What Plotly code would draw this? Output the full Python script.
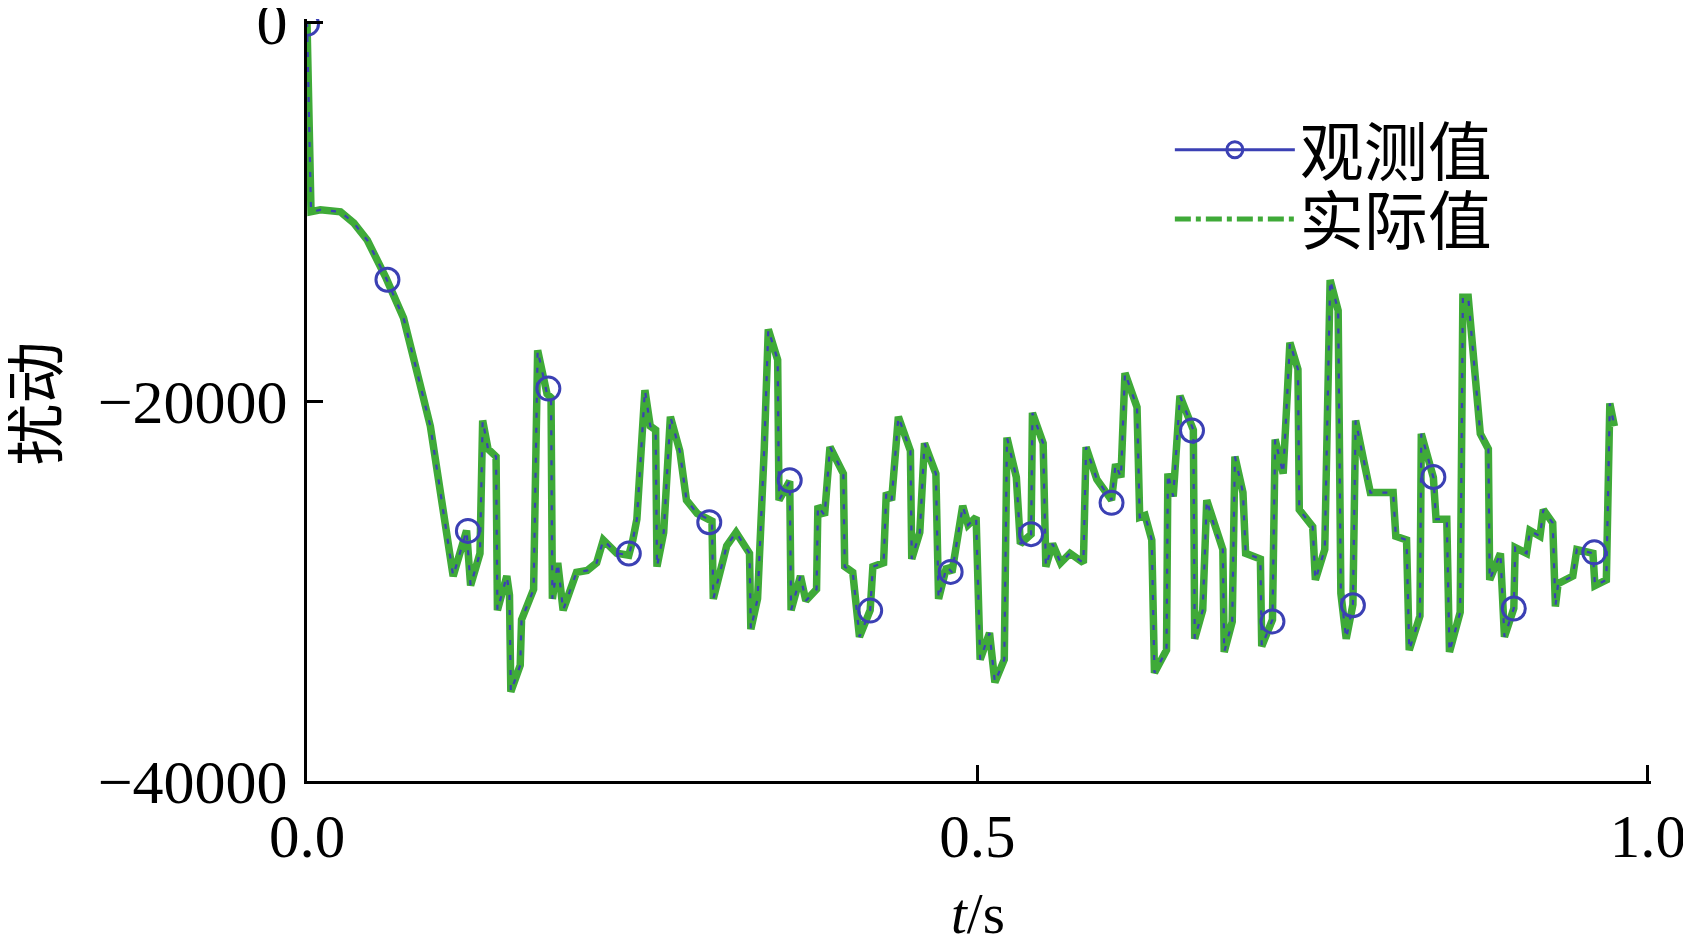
import plotly.graph_objects as go

# ---- data ----
t_actual = [0.000, 0.003, 0.010, 0.025, 0.035, 0.045, 0.059, 0.072, 0.084, 0.092,
            0.109, 0.119, 0.122, 0.129, 0.131, 0.135, 0.141, 0.142, 0.149, 0.151,
            0.152, 0.159, 0.160, 0.164, 0.169, 0.172, 0.179, 0.182, 0.183, 0.187,
            0.191, 0.201, 0.209, 0.216, 0.221, 0.231, 0.240, 0.243, 0.246, 0.252,
            0.256, 0.260, 0.261, 0.266, 0.271, 0.278, 0.283, 0.291, 0.299, 0.302,
            0.303, 0.313, 0.320, 0.330, 0.331, 0.336, 0.341, 0.344, 0.351, 0.352,
            0.360, 0.361, 0.368, 0.372, 0.380, 0.381, 0.386, 0.390, 0.400, 0.401,
            0.407, 0.412, 0.420, 0.422, 0.430, 0.432, 0.436, 0.441, 0.450, 0.451,
            0.457, 0.4605, 0.469, 0.471, 0.477, 0.481, 0.489, 0.493, 0.499, 0.502,
            0.509, 0.513, 0.520, 0.522, 0.529, 0.532, 0.540, 0.541, 0.549, 0.551,
            0.556, 0.562, 0.569, 0.579, 0.581, 0.589, 0.600, 0.603, 0.607, 0.610,
            0.619, 0.621, 0.625, 0.630, 0.632, 0.641, 0.642, 0.646, 0.651, 0.661,
            0.662, 0.668, 0.671, 0.678, 0.683, 0.684, 0.690, 0.692, 0.698, 0.700,
            0.711, 0.712, 0.720, 0.722, 0.728, 0.733, 0.739, 0.740, 0.750, 0.752,
            0.759, 0.763, 0.769, 0.771, 0.775, 0.780, 0.782, 0.788, 0.793, 0.810,
            0.812, 0.820, 0.822, 0.830, 0.831, 0.840, 0.842, 0.850, 0.852, 0.860,
            0.862, 0.866, 0.872, 0.875, 0.881, 0.882, 0.890, 0.893, 0.900, 0.901,
            0.9095, 0.912, 0.9195, 0.922, 0.929, 0.931, 0.933, 0.944, 0.947, 0.959,
            0.9605, 0.969, 0.9716, 0.975]
v_actual = [0, -10000, -9900, -10000, -10600, -11500, -13500, -15600, -19000, -21300,
            -29200, -26800, -29700, -28000, -21000, -22500, -22900, -31000, -29200, -30200,
            -35300, -33900, -31500, -30800, -29900, -17300, -19600, -19800, -30400, -28500,
            -31000, -29000, -28900, -28500, -27300, -28000, -28100, -27300, -26200, -19400,
            -21300, -21500, -28700, -26900, -20800, -22600, -25200, -25900, -26200, -26300,
            -30400, -27600, -26900, -28000, -32000, -30400, -22500, -16200, -17800, -25200,
            -24200, -31000, -29200, -30500, -29900, -25500, -26000, -22400, -23800, -28700,
            -29000, -32400, -31000, -28700, -28500, -24800, -25200, -20800, -22600, -28300,
            -26900, -22200, -23800, -30400, -28700, -29000, -25500, -26500, -26100, -33600,
            -32200, -34800, -33600, -21900, -24000, -27500, -27000, -20600, -22200, -28700,
            -27500, -28500, -28000, -28500, -22400, -24100, -25200, -23300, -24000, -18500,
            -20300, -26100, -26000, -27300, -34300, -33100, -23800, -25000, -19700, -21500,
            -32500, -31000, -25200, -26900, -27800, -33200, -31600, -22900, -24800, -28000,
            -28300, -32900, -31500, -22000, -23800, -16900, -18300, -25700, -26600, -29400,
            -27800, -13600, -15200, -30100, -32500, -30700, -21000, -23100, -24800, -24800,
            -27100, -27300, -33100, -31300, -21700, -24000, -26200, -26200, -33200, -31100,
            -14500, -14500, -19600, -21700, -22500, -29400, -28000, -32400, -30900, -27700,
            -28000, -26800, -27100, -25700, -26400, -30800, -29600, -29200, -27800, -28000,
            -29700, -29400, -20100, -21300]

t_obs = [0.00, 0.06, 0.12, 0.18, 0.24, 0.30, 0.36, 0.42, 0.48, 0.54,
         0.60, 0.66, 0.72, 0.78, 0.84, 0.90, 0.96]
v_obs = [-100, -13580, -26820, -19320, -28010, -26360, -24150, -31020, -28980, -26990,
         -25340, -21530, -31590, -30740, -23980, -30910, -27950]

x_ticks = [0.0, 0.5, 1.0]
y_ticks = [0, -20000, -40000]

name_obs = "观测值"
name_act = "实际值"
x_title = "<i>t</i>/s"
y_title = "扰动"

BLUE = "#3B40B4"
GREEN = "#3FAA38"
SERIF = "Liberation Serif, Times New Roman, serif"
CJK = "Noto Sans CJK SC, sans-serif"

fig = go.Figure()

# legend entries (no data of their own)
fig.add_trace(go.Scatter(x=[None], y=[None], mode="lines+markers", name=name_obs,
                         legend="legend",
                         line=dict(color=BLUE, width=3),
                         marker=dict(symbol="circle-open", size=16, color=BLUE,
                                     line=dict(width=3, color=BLUE))))
fig.add_trace(go.Scatter(x=[None], y=[None], mode="lines", name=name_act,
                         legend="legend2",
                         line=dict(color=GREEN, width=5, dash="16px,5px,5px,5px")))

# actual (thick green)
fig.add_trace(go.Scatter(x=t_actual, y=v_actual, mode="lines", showlegend=False,
                         line=dict(color=GREEN, width=7.5)))
# observed (thin blue dashes riding on the green)
fig.add_trace(go.Scatter(x=t_actual, y=v_actual, mode="lines", showlegend=False,
                         line=dict(color=BLUE, width=2.2, dash="5px,10px"),
                         hoverinfo="skip"))
# observed markers
fig.add_trace(go.Scatter(x=t_obs, y=v_obs, mode="markers", showlegend=False,
                         marker=dict(symbol="circle-open", size=23, color=BLUE,
                                     line=dict(width=3, color=BLUE))))

legend_common = dict(xanchor="left", yanchor="middle", bgcolor="rgba(0,0,0,0)",
                     borderwidth=0, font=dict(family=CJK, size=64, color="black"),
                     itemwidth=120)

fig.update_layout(
    width=1675, height=933,
    margin=dict(l=299, r=32, t=11, b=160),
    paper_bgcolor="white", plot_bgcolor="white",
    font=dict(family=SERIF, size=62, color="black"),
    showlegend=True,
    legend=dict(x=0.642, y=0.828, **legend_common),
    legend2=dict(x=0.642, y=0.737, **legend_common),
    xaxis=dict(range=[0, 1.0023], tickvals=x_ticks, tickformat=".1f",
               automargin=False, ticklabeloverflow="allow",
               showgrid=False, zeroline=False, showline=True, linecolor="black",
               linewidth=3, ticks="inside", ticklen=16, tickwidth=3, tickcolor="black",
               tickfont=dict(family=SERIF, size=61)),
    yaxis=dict(range=[-40000, 160], tickvals=y_ticks, tickformat="d",
               automargin=False, ticklabeloverflow="allow",
               showgrid=False, zeroline=False, showline=True, linecolor="black",
               linewidth=3, ticks="inside", ticklen=16, tickwidth=3, tickcolor="black",
               tickfont=dict(family=SERIF, size=62), ticklabelstandoff=4),
    annotations=[
        dict(text=x_title, xref="paper", yref="paper", x=0.4989, y=-0.174,
             xanchor="center", yanchor="middle", showarrow=False,
             font=dict(family=SERIF, size=57, color="black")),
        dict(text=y_title, xref="paper", yref="paper", x=-0.205, y=0.496,
             xanchor="center", yanchor="middle", showarrow=False, textangle=-90,
             font=dict(family=CJK, size=62, color="black")),
    ],
)

fig.write_html("out.html")
